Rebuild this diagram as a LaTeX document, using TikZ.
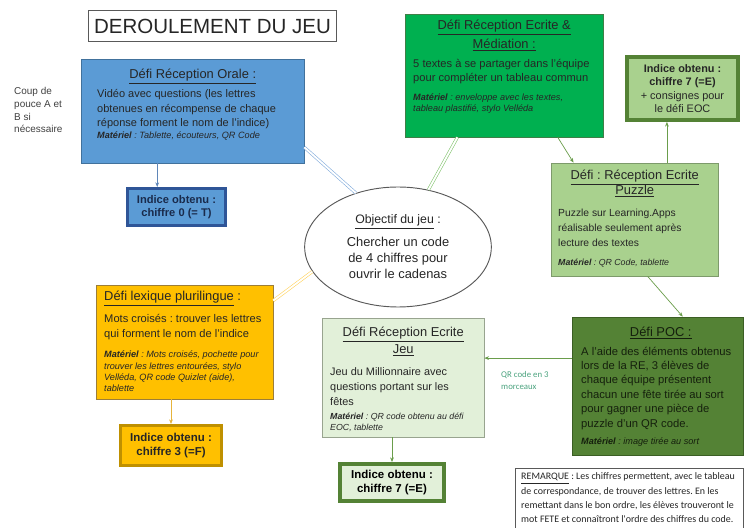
\documentclass[tikz,border=0pt]{standalone}
\usepackage{fontspec}
\setmainfont{Liberation Sans}
\newfontfamily\calibri{Carlito}
\usepackage{xcolor}
\usetikzlibrary{fit}
\usetikzlibrary{shapes.geometric}
\usetikzlibrary{arrows.meta}

\definecolor{encre}{HTML}{262626}
\definecolor{bleuDefi}{HTML}{5B9BD5}
\definecolor{bleuBord}{HTML}{41719C}
\definecolor{bleuFonce}{HTML}{2F5597}
\definecolor{bleuEncre}{HTML}{1A2B4C}
\definecolor{bleuLien}{HTML}{80AADB}
\definecolor{bleuFleche}{HTML}{5F86B8}
\definecolor{vertVif}{HTML}{00B050}
\definecolor{vertBord}{HTML}{3F7F47}
\definecolor{vertLien}{HTML}{82C46E}
\definecolor{vertClair}{HTML}{A9D18E}
\definecolor{vertFonce}{HTML}{548235}
\definecolor{vertSombre}{HTML}{3B5E24}
\definecolor{vertGris}{HTML}{7D9A6B}
\definecolor{grisVert}{HTML}{98A48F}
\definecolor{vertPale}{HTML}{E2F0D9}
\definecolor{vertFleche}{HTML}{6A9D4B}
\definecolor{encrePoc}{HTML}{15200D}
\definecolor{orangeDefi}{HTML}{FFC000}
\definecolor{orangeGris}{HTML}{9C7E38}
\definecolor{orangeFonce}{HTML}{BF9000}
\definecolor{orangeLien}{HTML}{FFD35C}
\definecolor{orangeFleche}{HTML}{E6B43C}
\definecolor{grisBord}{HTML}{595959}
\definecolor{grisTexte}{HTML}{404040}
\definecolor{qrVert}{HTML}{4CA37F}

\newcommand{\titreDefi}{\fontsize{11}{13}\selectfont}
\frenchspacing

\tikzset{
  boite/.style={rectangle, inner sep=0pt, line width=0.6pt},
  indice/.style={rectangle, inner sep=0pt, line width=2.5pt, align=center, font=\bfseries\fontsize{9.5}{11}\selectfont},
  texte/.style={inner sep=0pt, anchor=base west, align=flush left, text=encre},
  fleche/.style={draw=#1, line width=0.6pt, -{Stealth[length=4pt,width=3.2pt]}},
  lien/.style={draw=#1, line width=0.5pt, double=white, double distance=1.6pt}
}

\begin{document}
\begin{tikzpicture}[x=0.3mm, y=-0.3mm]
                \useasboundingbox (0,0) rectangle (745,528);

                %title
                \node[draw=grisBord, line width=0.6pt, minimum width=74.5mm, minimum height=9.4mm, inner sep=0pt, text=encre, font=\fontsize{17.5}{20}\selectfont] (titre) at (212.5,26) {DEROULEMENT DU JEU};

                %coup de pouce
                \node[texte, text=grisTexte, text width=20mm, font=\fontsize{8.5}{10.8}\selectfont] (pouce) at (14,95) {Coup de\\pouce A et\\B si\\nécessaire};

                %reception orale
                \node[boite, draw=bleuBord, fill=bleuDefi, fit={(81,59) (304,163)}] (orale) {};
                \node[texte, text width=57.3mm] (oraletxt) at (97,78.5) {%
                    {\centering\titreDefi\underline{Défi Réception Orale :}\par}
                    \vspace{4.6pt}
                    {\fontsize{9.4}{12}\selectfont Vidéo avec questions (les lettres\\obtenues en récompense de chaque\\réponse forment le nom de l'indice)\par}
                    \vspace{0.7pt}
                    {\fontsize{7.8}{10}\selectfont\itshape\textbf{Matériel} : Tablette, écouteurs, QR Code\par}};
                \node[indice, draw=bleuFonce, fill=bleuDefi, text=bleuEncre, minimum width=29.4mm, minimum height=11.1mm] (indiceT) at (176.5,207) {Indice obtenu :\\chiffre 0 (= T)};

                %reception ecrite et mediation
                \node[boite, draw=vertBord, fill=vertVif, fit={(405,14) (603,137)}] (mediation) {};
                \node[texte, text width=54.6mm] (mediationtxt) at (413,29.5) {%
                    {\centering\fontsize{11}{16.2}\selectfont\underline{Défi Réception Ecrite \&}\\\underline{Médiation :}\par}
                    \vspace{4.6pt}
                    {\fontsize{9.5}{12}\selectfont 5 textes à se partager dans l'équipe\\pour compléter un tableau commun\par}
                    \vspace{6.8pt}
                    {\fontsize{7.8}{9.4}\selectfont\itshape\textbf{Matériel} : enveloppe avec les textes,\\tableau plastifié, stylo Velléda\par}};
                \node[indice, line width=3pt, draw=vertFonce, fill=vertClair, text=encre, minimum width=33.4mm, minimum height=19mm, font=\fontsize{9.3}{11.5}\selectfont] (indiceE) at (682.5,88.5) {\textbf{Indice obtenu :}\\\textbf{chiffre 7 (=E)}\\+ consignes pour\\le défi EOC};

                %puzzle
                \node[boite, draw=vertGris, fill=vertClair, fit={(551,163) (718,276)}] (puzzle) {};
                \node[texte, text width=45.9mm] (puzzletxt) at (558,179.5) {%
                    {\centering\fontsize{11}{12.8}\selectfont\underline{Défi : Réception Ecrite}\\\underline{Puzzle}\par}
                    \vspace{6pt}
                    {\fontsize{8.8}{12.8}\selectfont Puzzle sur Learning.Apps\\réalisable seulement après\\lecture des textes\par}
                    \vspace{7.6pt}
                    {\fontsize{7.5}{9}\selectfont\itshape\textbf{Matériel} : QR Code, tablette\par}};

                %poc
                \node[boite, draw=vertSombre, fill=vertFonce, fit={(572,317) (743,455)}] (poc) {};
                \node[texte, text width=47.7mm, text=encrePoc] (poctxt) at (581,336.5) {%
                    {\centering\titreDefi\underline{Défi POC :}\par}
                    \vspace{3.5pt}
                    {\fontsize{9.6}{12.3}\selectfont A l'aide des éléments obtenus\\lors de la RE, 3 élèves de\\chaque équipe présentent\\chacun une fête tirée au sort\\pour gagner une pièce de\\puzzle d'un QR code.\par}
                    \vspace{5pt}
                    {\fontsize{7.8}{9.5}\selectfont\itshape\textbf{Matériel} : image tirée au sort\par}};

                %jeu
                \node[boite, draw=grisVert, fill=vertPale, fit={(322,318) (484,437)}] (jeu) {};
                \node[texte, text width=43.8mm] (jeutxt) at (330,336.5) {%
                    {\centering\fontsize{11}{14.5}\selectfont\underline{Défi Réception Ecrite}\\\underline{Jeu}\par}
                    \vspace{6.8pt}
                    {\fontsize{9.3}{12.4}\selectfont Jeu du Millionnaire avec\\questions portant sur les\\fêtes\par}
                    \vspace{2.6pt}
                    {\fontsize{7.5}{9.4}\selectfont\itshape\textbf{Matériel} : QR code obtenu au défi\\EOC, tablette\par}};
                \node[indice, line width=3pt, draw=vertFonce, fill=vertPale, text=black, minimum width=31.3mm, minimum height=11.2mm, font=\bfseries\fontsize{9.8}{11.5}\selectfont] (indiceJ) at (392,482.5) {Indice obtenu :\\chiffre 7 (=E)};

                %lexique plurilingue
                \node[boite, draw=orangeGris, fill=orangeDefi, fit={(96,285) (273,399)}] (lexique) {};
                \node[texte, text width=49.8mm] (lexiquetxt) at (104,300.5) {%
                    {\titreDefi\underline{Défi lexique plurilingue} :\par}
                    \vspace{7.2pt}
                    {\fontsize{9.5}{12}\selectfont Mots croisés : trouver les lettres\\qui forment le nom de l'indice\par}
                    \vspace{7.7pt}
                    {\fontsize{7.8}{9.8}\selectfont\itshape\textbf{Matériel} : Mots croisés, pochette pour\\trouver les lettres entourées, stylo\\Velléda, QR code Quizlet (aide),\\tablette\par}};
                \node[indice, draw=orangeFonce, fill=orangeDefi, text=encre, minimum width=30.3mm, minimum height=12mm, font=\bfseries\fontsize{9.8}{11.5}\selectfont] (indiceF) at (171,445.5) {Indice obtenu :\\chiffre 3 (=F)};

                %objectif
                \node[ellipse, draw=grisBord, line width=0.8pt, fill=white, minimum width=56mm, minimum height=36mm, inner sep=0pt, text width=38mm, align=flush center, text=encre, font=\fontsize{11}{13.7}\selectfont] (objectif) at (398,247) {%
                    {\fontsize{10.5}{13}\selectfont\underline{Objectif du jeu} :\par}
                    \vspace{5.9pt}
                    Chercher un code\\de 4 chiffres pour\\ouvrir le cadenas};

                %double links
                \draw[lien=bleuLien] (orale.-18) -- (objectif.128);
                \draw[lien=vertLien] (mediation.-127) -- (objectif.62);
                \draw[lien=orangeLien] (lexique.25) -- (objectif.196);

                %arrows
                \draw[fleche=bleuFleche] (orale.south -| indiceT.134) -- (indiceT.134);
                \draw[fleche=orangeFleche] (lexique.south -| indiceF.north) -- (indiceF.north);
                \draw[fleche=vertFleche] (jeu.south -| indiceJ.north) -- (indiceJ.north);
                \draw[fleche=vertFleche] (mediation.-49) -- (puzzle.137);
                \draw[fleche=vertFleche] (puzzle.north -| indiceE.-115) -- (indiceE.-115);
                \draw[fleche=vertFleche] (puzzle.-77) -- (poc.70);
                \draw[fleche=vertFleche] (poc.162) -- (poc.162 -| jeu.east);
                \node[anchor=north west, inner sep=0pt, align=left, text=qrVert, font=\calibri\fontsize{7.5}{10.7}\selectfont] (qrlabel) at (501,371) {QR code en 3\\morceaux};

                %remarque
                \node[boite, draw=grisBord, line width=0.5pt, fill=white, fit={(515,468) (743,531)}] (remarque) {};
                \node[texte, text width=72mm, font=\calibri\fontsize{8.5}{12.2}\selectfont] (remarquetxt) at (521,480) {\underline{REMARQUE} : Les chiffres permettent, avec le tableau\\de correspondance, de trouver des lettres. En les\\remettant dans le bon ordre, les élèves trouveront le\\mot FETE et connaîtront l'ordre des chiffres du code.};

\end{tikzpicture}
\end{document}
